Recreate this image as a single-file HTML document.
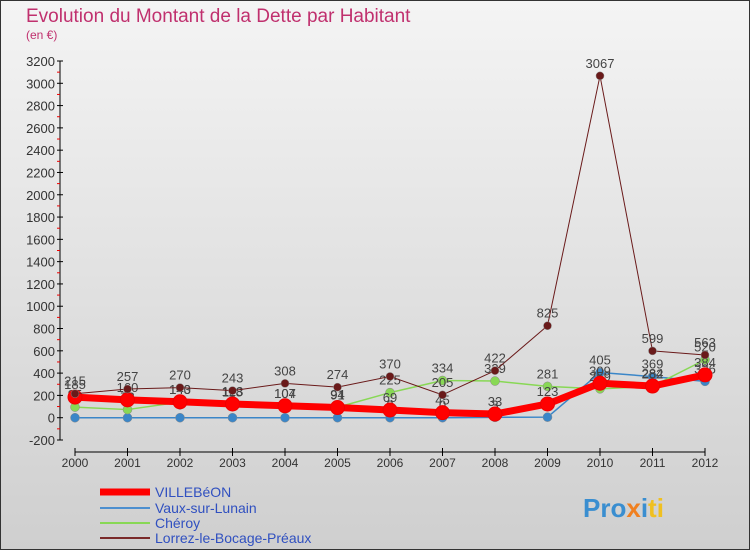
<!DOCTYPE html>
<html><head><meta charset="utf-8"><style>
body{margin:0}
#c{width:750px;height:550px;position:relative;font-family:"Liberation Sans",sans-serif;}
</style></head><body>
<div id="c">
<svg id="s" width="750" height="550" xmlns="http://www.w3.org/2000/svg">
<defs><linearGradient id="bg" x1="0" y1="0" x2="0" y2="1"><stop offset="0" stop-color="#f4f4f4"/><stop offset="1" stop-color="#cfcfcf"/></linearGradient></defs>
<rect x="0.5" y="0.5" width="749" height="549" fill="url(#bg)" stroke="#333"/>
<text x="26" y="22" font-size="19" fill="#c0306e">Evolution du Montant de la Dette par Habitant</text>
<text x="26" y="39" font-size="12" fill="#c0306e">(en €)</text>
<g id="axes"></g><g id="plot"></g>
<g font-size="14">
<line x1="100" y1="492" x2="150" y2="492" stroke="#f00" stroke-width="7"/><text x="155" y="497" fill="#3050c0">VILLEBéON</text>
<line x1="100" y1="508" x2="150" y2="508" stroke="#4d8fcf" stroke-width="2"/><text x="155" y="513" fill="#3050c0">Vaux-sur-Lunain</text>
<line x1="100" y1="523" x2="150" y2="523" stroke="#88d855" stroke-width="2"/><text x="155" y="528" fill="#3050c0">Chéroy</text>
<line x1="100" y1="538" x2="150" y2="538" stroke="#7a2a2a" stroke-width="2"/><text x="155" y="543" fill="#3050c0">Lorrez-le-Bocage-Préaux</text>
</g>
<text x="583" y="517" font-size="26" font-weight="bold" fill="#3a8ed0">Pro<tspan fill="#f08020">x</tspan><tspan fill="#3a8ed0">i</tspan><tspan fill="#f0c020">ti</tspan></text>
</svg></div>
<script>
const years=[2000,2001,2002,2003,2004,2005,2006,2007,2008,2009,2010,2011,2012];
const yTicks=[-200,0,200,400,600,800,1000,1200,1400,1600,1800,2000,2200,2400,2600,2800,3000,3200];
const villebeon=[185,160,143,123,107,91,69,45,33,123,309,284,384];
const vaux=[0,0,0,0,0,0,0,0,3,5,405,369,326];
const cheroy=[95,73,140,118,104,94,225,334,329,281,259,282,520];
const lorrez=[215,257,270,243,308,274,370,205,422,825,3067,599,563];
const NS="http://www.w3.org/2000/svg";
const X=i=>75+i*(705-75)/12;
const Y=v=>417.7-v*(379/3400);
function mk(tag,attrs,parent,txt){const e=document.createElementNS(NS,tag);for(const k in attrs)e.setAttribute(k,attrs[k]);if(txt!=null)e.textContent=txt;parent.appendChild(e);return e;}
const ax=document.getElementById('axes'),pl=document.getElementById('plot');
const yl=mk('line',{x1:60,y1:Y(3200),x2:60,y2:Y(-200),stroke:'#000'},ax);


yTicks.forEach(t=>{
 mk('line',{x1:57,y1:Y(t),x2:63,y2:Y(t),stroke:'#000'},ax);
 if(t<3200) mk('line',{x1:57,y1:Y(t+100),x2:60,y2:Y(t+100),stroke:'#e00'},ax);
 const tx=mk('text',{x:55,y:Y(t)+5,'font-size':13,'text-anchor':'end',fill:'#333'},ax,String(t));
 
 
});
const xl=mk('line',{x1:X(0),y1:452,x2:X(12),y2:452,stroke:'#000'},ax);


years.forEach((y,i)=>{
 mk('line',{x1:X(i),y1:448,x2:X(i),y2:456,stroke:'#000'},ax);
 const tx=mk('text',{x:X(i),y:467,'font-size':12,'text-anchor':'middle',fill:'#333'},ax,String(y));
 
 
});
function series(vals,color,w,r,name,labelDy){
 const g=mk('g',{},pl);
 
 
 mk('polyline',{points:vals.map((v,i)=>X(i)+','+Y(v)).join(' '),fill:'none',stroke:color,'stroke-width':w,'stroke-linejoin':'round'},g);
 vals.forEach((v,i)=>{
  const c=mk('circle',{cx:X(i),cy:Y(v),r:r,fill:color,stroke:w>3?'#e00':'#888','stroke-width':w>3?1:0.5},g);
  
  
  const t=mk('text',{x:X(i),y:Y(v)+labelDy,'font-size':13,'text-anchor':'middle',fill:'#444'},g,String(v));
  
  
 });
}
series(vaux,'#3a86c8',1.5,4.5,'vaux-series',-8);
series(cheroy,'#88d855',1.5,4.5,'cheroy-series',-8);
series(villebeon,'#f00',7,7,'villebeon-series',-8);
series(lorrez,'#6a1a1a',1,4,'lorrez-series',-8);
</script>
</body></html>
